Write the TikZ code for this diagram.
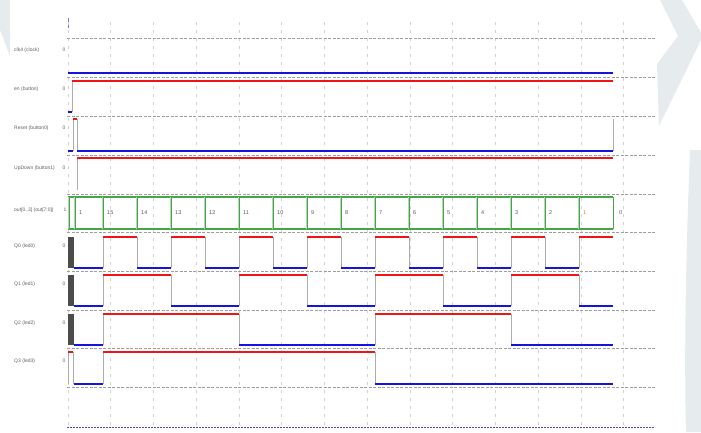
\documentclass[tikz,border=0pt]{standalone}
\usepackage{fontspec}
\setmainfont{Liberation Sans}
\definecolor{sigred}{RGB}{240,20,20}
\definecolor{sigblue}{RGB}{20,20,225}
\definecolor{busgreen}{RGB}{70,165,70}
\definecolor{buslight}{RGB}{175,220,175}
\definecolor{wm}{RGB}{230,235,238}
\begin{document}
\begin{tikzpicture}[x=1pt,y=-1pt,
  hi/.style={sigred,line width=2.4pt},
  lo/.style={sigblue,line width=1.4pt},
  edg/.style={gray!65,line width=0.9pt},
  hgrid/.style={gray!75,line width=0.6pt,dash pattern=on 3pt off 1.5pt},
  vgrid/.style={gray!35,line width=0.6pt,dash pattern=on 3pt off 5pt},
  lbl/.style={font=\fontsize{5}{6}\selectfont,text=gray!75!black,anchor=west,inner sep=0pt},
  valtxt/.style={font=\fontsize{5}{6}\selectfont,text=gray!75!black,anchor=center,inner sep=0pt},
  busv/.style={font=\fontsize{5.5}{6}\selectfont,text=gray!70!black,anchor=west,inner sep=0pt},
  busline/.style={busgreen,line width=1.3pt},
  bustr/.style={buslight,line width=2.6pt}]
\useasboundingbox (0,0) rectangle (701,432);
% watermark shapes
\fill[wm] (660,0) -- (682,0) -- (703,36) -- (659,126) -- (657,64) -- (678,36) -- cycle;
\fill[wm] (690,150) .. controls (686,250) and (684,350) .. (686,432) -- (701,432) -- (701,150) -- cycle;
\fill[wm] (0,0) -- (10,0) -- (10,56) -- (0,30) -- cycle;
% cursor tick
\draw[sigblue!60,line width=0.8pt] (68,18) -- (68,28);
% vertical grid
\foreach \i in {0,...,13} \draw[vgrid] ({68+42.75*\i},22) -- ({68+42.75*\i},430);
% horizontal grid
\foreach \y in {38,77,116,155,194,232.5,271,310,348,387} \draw[hgrid] (67,\y) -- (655,\y);
\draw[sigblue!45!gray,line width=0.8pt,dash pattern=on 2pt off 1pt] (67,427) -- (655,427);
% labels
\node[lbl] (l1) at (14,50) {clk4 (clock)};
\node[lbl] (l2) at (14,89) {en (button)};
\node[lbl] (l3) at (14,128) {Reset (button0)};
\node[lbl] (l4) at (14,168) {UpDown (button1)};
\node[lbl] (l5) at (14,210) {out[0..3] (out[7:0])};
\node[lbl] (l6) at (14,246) {Q0 (led0)};
\node[lbl] (l7) at (14,284) {Q1 (led1)};
\node[lbl] (l8) at (14,323) {Q2 (led2)};
\node[lbl] (l9) at (14,361) {Q3 (led3)};
\foreach \y/\n in {50/1,89/2,128/3,168/4,246/6,284/7,323/8,361/9}
  \node[valtxt] (v\n) at (64,\y) {0};
\node[valtxt] (v5) at (65,210) {1};
% clk4
\draw[lo] (68,73) -- (613,73);
% en
\draw[edg] (72,112) -- (72,81);
\draw[lo] (68,112) -- (72,112);
\draw[hi] (72,81) -- (613,81);
% Reset
\draw[edg] (73,151) -- (73,119) (77,119) -- (77,151) (613,151) -- (613,119);
\draw[lo] (68,151) -- (73,151);
\draw[hi] (73,119) -- (77,119);
\draw[lo] (77,151) -- (613,151);
% UpDown
\draw[edg] (77,190) -- (77,158);
\draw[hi] (77,158) -- (613,158);
% bus
\draw[busline] (68,197) -- (613,197) (68,229) -- (613,229);
\foreach \x in {69,75,103,137,171,205,239,273,307,341,375,409,443,477,511,545,579} {
  \draw[bustr] (\x,197) -- (\x,229);
  \draw[busgreen,line width=0.5pt] (\x,197) -- (\x,229);
}
\draw[busgreen,line width=1pt] (613,197) -- (613,229);
\foreach \x/\v in {75/1,103/15,137/14,171/13,205/12,239/11,273/10,307/9,341/8,375/7,409/6,443/5,477/4,511/3,545/2}
  \node[busv] at ({\x+4},213) {\v};
\node[busv,text=orange!70!gray] at (583,213) {1};
\node[busv] at (619,213) {0};
% Q0
\fill[gray!60!black] (68,237) rectangle (74,268);
\draw[lo] (74,268) -- (103,268);
\foreach \x in {103,137,171,205,239,273,307,341,375,409,443,477,511,545,579} \draw[edg] (\x,268) -- (\x,237);
\foreach \a/\b in {103/137,171/205,239/273,307/341,375/409,443/477,511/545,579/613} \draw[hi] (\a,237) -- (\b,237);
\foreach \a/\b in {137/171,205/239,273/307,341/375,409/443,477/511,545/579} \draw[lo] (\a,268) -- (\b,268);
% Q1
\fill[gray!60!black] (68,275) rectangle (74,306);
\draw[lo] (74,306) -- (103,306);
\foreach \x in {103,171,239,307,375,443,511,579} \draw[edg] (\x,306) -- (\x,275);
\foreach \a/\b in {103/171,239/307,375/443,511/579} \draw[hi] (\a,275) -- (\b,275);
\foreach \a/\b in {171/239,307/375,443/511,579/613} \draw[lo] (\a,306) -- (\b,306);
% Q2
\fill[gray!60!black] (68,314) rectangle (74,345);
\draw[lo] (74,345) -- (103,345);
\foreach \x in {103,239,375,511} \draw[edg] (\x,345) -- (\x,314);
\foreach \a/\b in {103/239,375/511} \draw[hi] (\a,314) -- (\b,314);
\foreach \a/\b in {239/375,511/613} \draw[lo] (\a,345) -- (\b,345);
% Q3
\draw[edg] (68,352) -- (68,384) (73,352) -- (73,384);
\draw[hi] (68,352) -- (73,352);
\draw[lo] (74,384) -- (103,384);
\foreach \x in {103,375} \draw[edg] (\x,384) -- (\x,352);
\draw[hi] (103,352) -- (375,352);
\draw[lo] (375,384) -- (613,384);
\end{tikzpicture}
\end{document}
